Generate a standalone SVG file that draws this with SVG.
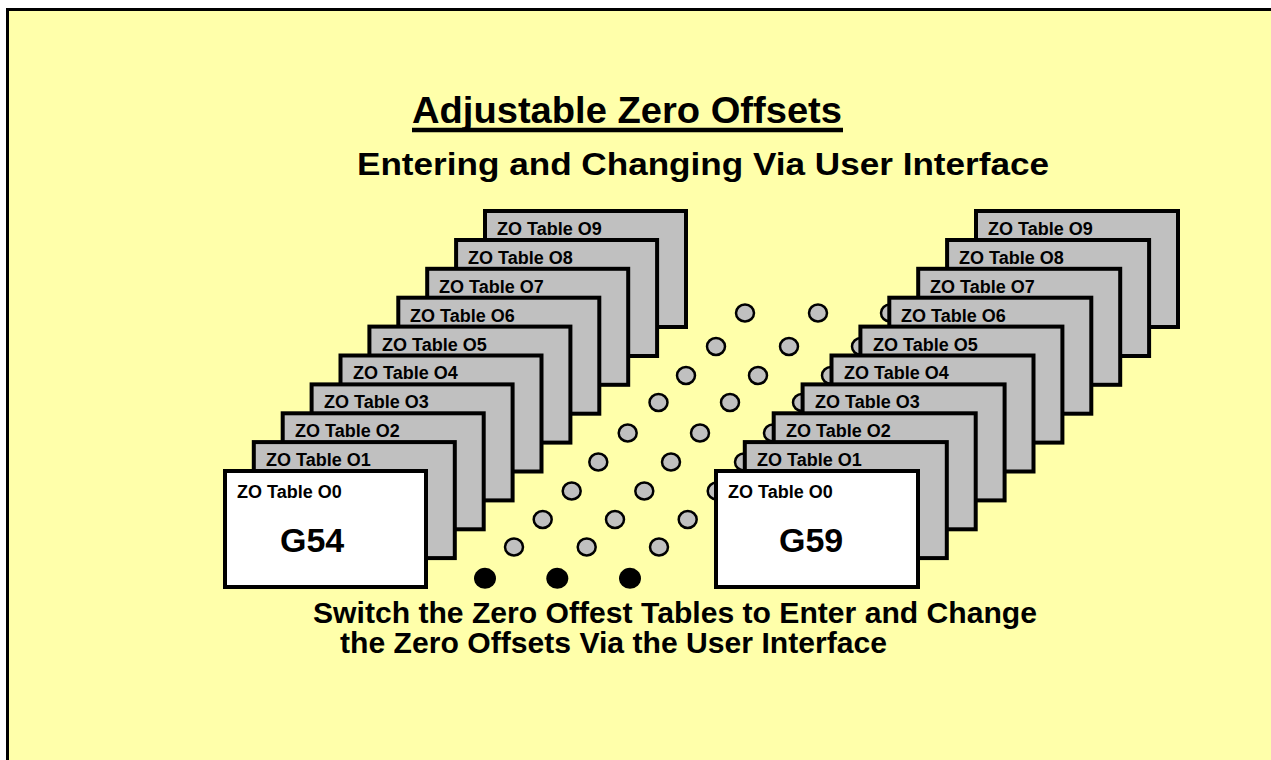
<svg xmlns="http://www.w3.org/2000/svg" width="1271" height="760" viewBox="0 0 1271 760">
<style>
text{font-family:"Liberation Sans",Arial,sans-serif;font-weight:bold;fill:#000}
.card{fill:#C0C0C0;stroke:#000;stroke-width:4}
.front{fill:#FFFFFF;stroke:#000;stroke-width:4}
.lbl{font-size:18px}
.big{font-size:34px}
.dot{fill:#C0C0C0;stroke:#000;stroke-width:2.5}
.bdot{fill:#000}
</style>
<rect x="0" y="0" width="1271" height="760" fill="#FFFFFF"/>
<rect x="7.5" y="9.5" width="1300" height="800" fill="#FFFFAA" stroke="#000" stroke-width="3"/>
<g id="title">
<text x="412" y="123" font-size="37.5" textLength="430" lengthAdjust="spacingAndGlyphs">Adjustable Zero Offsets</text>
<line x1="412" y1="130" x2="843" y2="130" stroke="#000" stroke-width="4.5"/>
</g>
<g id="subtitle"><text x="357" y="175" font-size="31" textLength="692" lengthAdjust="spacingAndGlyphs">Entering and Changing Via User Interface</text></g>
<g id="dots">
<ellipse class="dot" cx="745" cy="313" rx="9" ry="8.5"/><ellipse class="dot" cx="818" cy="313" rx="9" ry="8.5"/><ellipse class="dot" cx="890" cy="313" rx="9" ry="8.5"/>
<ellipse class="dot" cx="716" cy="346.5" rx="9" ry="8.5"/><ellipse class="dot" cx="789" cy="346.5" rx="9" ry="8.5"/><ellipse class="dot" cx="861" cy="346.5" rx="9" ry="8.5"/>
<ellipse class="dot" cx="686" cy="375.5" rx="9" ry="8.5"/><ellipse class="dot" cx="758" cy="375.5" rx="9" ry="8.5"/><ellipse class="dot" cx="831" cy="375.5" rx="9" ry="8.5"/>
<ellipse class="dot" cx="658.5" cy="402.5" rx="9" ry="8.5"/><ellipse class="dot" cx="730" cy="402.5" rx="9" ry="8.5"/><ellipse class="dot" cx="802" cy="402.5" rx="9" ry="8.5"/>
<ellipse class="dot" cx="627.7" cy="433" rx="9" ry="8.5"/><ellipse class="dot" cx="700" cy="433" rx="9" ry="8.5"/><ellipse class="dot" cx="773" cy="433" rx="9" ry="8.5"/>
<ellipse class="dot" cx="598.3" cy="462" rx="9" ry="8.5"/><ellipse class="dot" cx="671" cy="462" rx="9" ry="8.5"/><ellipse class="dot" cx="744" cy="462" rx="9" ry="8.5"/>
<ellipse class="dot" cx="571.7" cy="491" rx="9" ry="8.5"/><ellipse class="dot" cx="644.3" cy="491" rx="9" ry="8.5"/><ellipse class="dot" cx="716.7" cy="491" rx="9" ry="8.5"/>
<ellipse class="dot" cx="542.7" cy="519.5" rx="9" ry="8.5"/><ellipse class="dot" cx="615" cy="519.5" rx="9" ry="8.5"/><ellipse class="dot" cx="687.7" cy="519.5" rx="9" ry="8.5"/>
<ellipse class="dot" cx="514" cy="547" rx="9" ry="8.5"/><ellipse class="dot" cx="586.7" cy="547" rx="9" ry="8.5"/><ellipse class="dot" cx="659" cy="547" rx="9" ry="8.5"/>
<ellipse class="bdot" cx="485" cy="578.3" rx="11" ry="10.5"/><ellipse class="bdot" cx="557.3" cy="578.3" rx="11" ry="10.5"/><ellipse class="bdot" cx="630" cy="578.3" rx="11" ry="10.5"/>
</g>
<g id="left-stack">
<g id="L9"><rect class="card" x="485" y="211" width="201" height="116"/><text class="lbl" x="497" y="235">ZO Table O9</text></g>
<g id="L8"><rect class="card" x="456.1" y="240" width="201" height="116"/><text class="lbl" x="468" y="264">ZO Table O8</text></g>
<g id="L7"><rect class="card" x="427.2" y="268.8" width="201" height="116"/><text class="lbl" x="439" y="293">ZO Table O7</text></g>
<g id="L6"><rect class="card" x="398.3" y="297.7" width="201" height="116"/><text class="lbl" x="410" y="322">ZO Table O6</text></g>
<g id="L5"><rect class="card" x="369.4" y="326.6" width="201" height="116"/><text class="lbl" x="382" y="351">ZO Table O5</text></g>
<g id="L4"><rect class="card" x="340.5" y="355.5" width="201" height="116"/><text class="lbl" x="353" y="379">ZO Table O4</text></g>
<g id="L3"><rect class="card" x="311.6" y="384.4" width="201" height="116"/><text class="lbl" x="324" y="408">ZO Table O3</text></g>
<g id="L2"><rect class="card" x="282.7" y="413.3" width="201" height="116"/><text class="lbl" x="295" y="437">ZO Table O2</text></g>
<g id="L1"><rect class="card" x="253.8" y="442.1" width="201" height="116"/><text class="lbl" x="266" y="466">ZO Table O1</text></g>
<g id="L0"><rect class="front" x="225" y="471" width="201" height="116"/><text class="lbl" x="237" y="498">ZO Table O0</text><text class="big" x="280" y="552">G54</text></g>
</g>
<g id="right-stack">
<g id="R9"><rect class="card" x="976" y="211" width="202" height="116"/><text class="lbl" x="988" y="235">ZO Table O9</text></g>
<g id="R8"><rect class="card" x="947.1" y="240" width="202" height="116"/><text class="lbl" x="959" y="264">ZO Table O8</text></g>
<g id="R7"><rect class="card" x="918.2" y="268.8" width="202" height="116"/><text class="lbl" x="930" y="293">ZO Table O7</text></g>
<g id="R6"><rect class="card" x="889.3" y="297.7" width="202" height="116"/><text class="lbl" x="901" y="322">ZO Table O6</text></g>
<g id="R5"><rect class="card" x="860.4" y="326.6" width="202" height="116"/><text class="lbl" x="873" y="351">ZO Table O5</text></g>
<g id="R4"><rect class="card" x="831.5" y="355.5" width="202" height="116"/><text class="lbl" x="844" y="379">ZO Table O4</text></g>
<g id="R3"><rect class="card" x="802.6" y="384.4" width="202" height="116"/><text class="lbl" x="815" y="408">ZO Table O3</text></g>
<g id="R2"><rect class="card" x="773.7" y="413.3" width="202" height="116"/><text class="lbl" x="786" y="437">ZO Table O2</text></g>
<g id="R1"><rect class="card" x="744.8" y="442.1" width="202" height="116"/><text class="lbl" x="757" y="466">ZO Table O1</text></g>
<g id="R0"><rect class="front" x="716" y="471" width="202" height="116"/><text class="lbl" x="728" y="498">ZO Table O0</text><text class="big" x="779" y="552">G59</text></g>
</g>
<g id="caption">
<text x="313" y="623" font-size="30" textLength="724" lengthAdjust="spacingAndGlyphs">Switch the Zero Offest Tables to Enter and Change</text>
<text x="340" y="653" font-size="30" textLength="547" lengthAdjust="spacingAndGlyphs">the Zero Offsets Via the User Interface</text>
</g>
</svg>
